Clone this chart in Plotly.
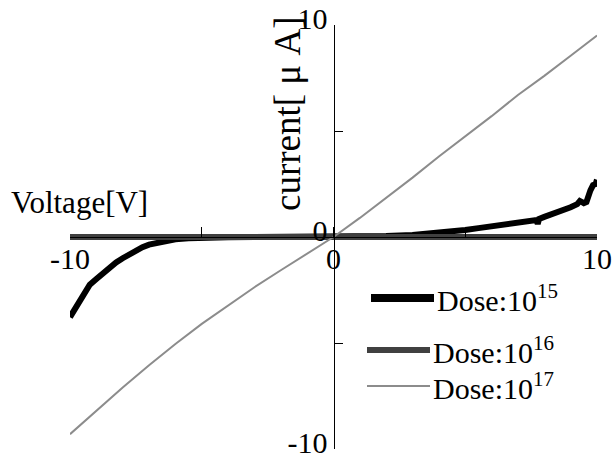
import plotly.graph_objects as go

# ---- data ----
v15 = [-10, -9.75, -9.5, -9.25, -9, -8.75, -8.5, -8.25, -8, -7.75, -7.5, -7.25, -7,
       -6.5, -6, -5.5, -5, -4, -3, -2, -1, 0, 1, 2, 3, 3.5, 4, 4.5, 5, 5.5, 6, 6.5,
       7, 7.25, 7.5, 7.7, 7.75, 7.8, 8, 8.25, 8.5, 8.75, 9, 9.25, 9.35, 9.5, 9.6,
       9.75, 9.85, 9.95, 10]
i15 = [-3.78, -3.3, -2.85, -2.25, -1.98, -1.7, -1.42, -1.2, -1.0, -0.8, -0.62, -0.48,
       -0.36, -0.2, -0.11, -0.06, -0.03, -0.01, 0, 0, 0, 0, 0.02, 0.05, 0.1, 0.14,
       0.19, 0.25, 0.33, 0.42, 0.5, 0.58, 0.66, 0.7, 0.75, 0.8, 0.62, 0.85, 0.95,
       1.05, 1.15, 1.3, 1.4, 1.55, 1.7, 1.6, 1.65, 2.2, 2.45, 2.5, 2.7]

v16 = [-10, -5, 0, 5, 10]
i16 = [0, 0, 0, 0, 0]

v17 = [-10, -9, -8, -7, -6, -5, -4, -3, -2, -1, 0, 1, 2, 3, 4, 5, 6, 7, 8, 9, 10]
i17 = [-9.3, -8.2, -7.1, -6.05, -5.05, -4.1, -3.22, -2.37, -1.57, -0.77, 0,
       0.9, 1.85, 2.8, 3.8, 4.75, 5.7, 6.7, 7.6, 8.55, 9.5]

tick_vals = [-10, -5, 0, 5, 10]
tick_text = ["-10", "", "0", "", "10"]
series_names = ["Dose:10<sup>15</sup>", "Dose:10<sup>16</sup>", "Dose:10<sup>17</sup>"]
colors = ["#000000", "#404040", "#8c8c8c"]
widths = [6, 6, 2]

FONT = "Liberation Serif"
W, H = 614, 459
ML, MR, MT, MB = 70, 17, 25, 10
PW, PH = W - ML - MR, H - MT - MB


def px(x):
    return (x - ML) / PW


def py(y):
    return (H - MB - y) / PH


fig = go.Figure()
for v, i, c, w, n in zip([v15, v16, v17], [i15, i16, i17], colors, widths, series_names):
    fig.add_trace(go.Scatter(x=v, y=i, mode="lines", line=dict(color=c, width=w),
                             name=n, showlegend=False))

axis_common = dict(range=[-10, 10], showgrid=False, zeroline=False, showline=True,
                   linecolor="black", linewidth=1, ticks="inside", tickcolor="black",
                   tickwidth=1, tickvals=tick_vals, ticktext=tick_text,
                   tickfont=dict(family=FONT, size=30, color="black"),
                   anchor="free", position=0.5, ticklabeloverflow="allow",
                   automargin=False)

fig.update_layout(
    width=W, height=H,
    margin=dict(l=ML, r=MR, t=MT, b=MB, autoexpand=False),
    paper_bgcolor="white", plot_bgcolor="white",
    xaxis=dict(**axis_common, ticklen=10, ticklabelstandoff=-5),
    yaxis=dict(**axis_common, ticklen=8, ticklabelshift=-7),
    showlegend=False,
)

annotations = [
    dict(text="Voltage[V]", x=px(9), y=py(203), xanchor="left", yanchor="middle",
         font=dict(family=FONT, size=31, color="black")),
    dict(text="current[ μ A]", x=px(288), y=py(114), xanchor="center", yanchor="middle",
         textangle=-90, font=dict(family=FONT, size=37, color="black")),
]
leg_y = [298, 350, 386]
leg_x0 = [371, 367, 367]
leg_x1 = [434, 430, 430]
leg_w = [8, 6, 2]
shapes = []
for n, yy, x0, x1, c, lw in zip(series_names, leg_y, leg_x0, leg_x1, colors, leg_w):
    shapes.append(dict(type="line", xref="paper", yref="paper", x0=px(x0), x1=px(x1),
                       y0=py(yy), y1=py(yy), line=dict(color=c, width=lw)))
    annotations.append(dict(text=n, x=px(x1 + 1), y=py(yy), xanchor="left", yanchor="middle",
                            font=dict(family=FONT, size=30, color="black")))

for a in annotations:
    a.update(xref="paper", yref="paper", showarrow=False)
fig.update_layout(annotations=annotations, shapes=shapes)

fig.write_html("out.html")
